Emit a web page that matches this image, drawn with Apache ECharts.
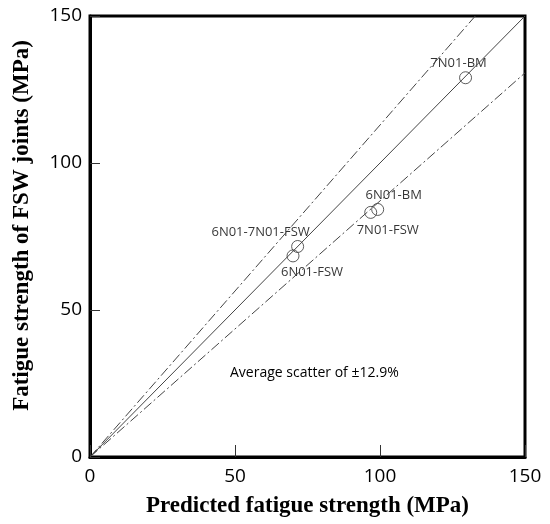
<!DOCTYPE html>
<html>
<head>
<meta charset="utf-8">
<script src="https://cdn.jsdelivr.net/npm/echarts@6/dist/echarts.min.js"></script>
<style>
  html, body { margin: 0; padding: 0; background: #fff; }
  #chart { width: 550px; height: 524px; }
</style>
</head>
<body>
<div id="chart"></div>
<script>
// joint names and strengths (MPa)
const joints = ['7N01-BM', '6N01-BM', '7N01-FSW', '6N01-7N01-FSW', '6N01-FSW']
const predicted = [129.5, 99.2, 96.8, 71.6, 70]
const measured = [129, 84.2, 83.2, 71.6, 68.4]
// label placement for each point, in pixels
const labelOffsets = [[-7, -14], [16, -14], [17, 18], [-37, -14], [19, 16]]
const axisTicks = [0, 50, 100, 150]
const scatterBand = 0.129

const myChart = echarts.init(document.getElementById('chart'))

const labelFont = '"Open Sans", sans-serif'
const titleStyle = { fontFamily: '"Liberation Serif", serif', fontWeight: 'bold', fontSize: 23, color: '#000' }

const option = {
  animation: false,
  backgroundColor: '#fff',
  grid: {
    left: 90, right: 25, top: 16, bottom: 67,
    show: true, borderColor: '#000', borderWidth: 3
  },
  xAxis: {
    type: 'value',
    min: axisTicks[0], max: axisTicks[axisTicks.length - 1], interval: 50,
    name: 'Predicted fatigue strength (MPa)',
    nameLocation: 'middle', nameGap: 38,
    nameTextStyle: titleStyle,
    axisLine: { show: true, lineStyle: { color: '#000', width: 3 } },
    axisTick: { show: true, inside: true, length: 12, lineStyle: { color: '#333', width: 1 } },
    axisLabel: { fontFamily: labelFont, fontSize: 19, color: '#000', margin: 10 },
    splitLine: { show: false }
  },
  yAxis: {
    type: 'value',
    min: axisTicks[0], max: axisTicks[axisTicks.length - 1], interval: 50,
    name: 'Fatigue strength of FSW joints (MPa)',
    nameLocation: 'middle', nameGap: 56, nameRotate: 90,
    nameTextStyle: Object.assign({ padding: [0, 0, 0, 22] }, titleStyle),
    axisLine: { show: true, lineStyle: { color: '#000', width: 3 } },
    axisTick: { show: true, inside: true, length: 10, lineStyle: { color: '#333', width: 1 } },
    axisLabel: { fontFamily: labelFont, fontSize: 19, color: '#000', margin: 8 },
    splitLine: { show: false }
  },
  graphic: [{
    type: 'text', left: 230, top: 366,
    style: { text: 'Average scatter of \u00b112.9%', font: '14px "Open Sans", sans-serif', fill: '#000' }
  }],
  series: [
    {
      type: 'line', symbol: 'none', silent: true,
      data: [[0, 0], [150, 150]],
      lineStyle: { color: '#444', width: 1 }
    },
    {
      type: 'line', symbol: 'none', silent: true,
      data: [[0, 0], [150 / (1 + scatterBand), 150]],
      lineStyle: { color: '#444', width: 1, type: [10, 3, 2, 3] }
    },
    {
      type: 'line', symbol: 'none', silent: true,
      data: [[0, 0], [150, 150 * (1 - scatterBand)]],
      lineStyle: { color: '#444', width: 1, type: [10, 3, 2, 3] }
    },
    {
      type: 'scatter',
      symbol: 'circle', symbolSize: 12,
      itemStyle: { color: 'rgba(255,255,255,0)', borderColor: '#333', borderWidth: 1 },
      data: joints.map((n, i) => ({
        name: n,
        value: [predicted[i], measured[i]],
        label: {
          show: true, position: 'inside', offset: labelOffsets[i],
          formatter: '{b}', fontFamily: labelFont, fontSize: 13, color: '#000'
        }
      }))
    }
  ]
}

myChart.setOption(option)
</script>
</body>
</html>
